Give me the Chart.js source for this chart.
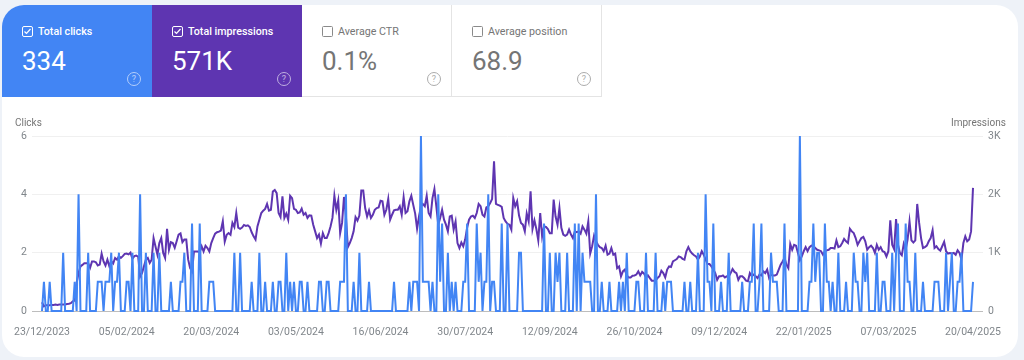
<!DOCTYPE html>
<html>
<head>
<meta charset="utf-8">
<title>Search performance</title>
<script src="https://cdn.jsdelivr.net/npm/chart.js@4"></script>
<style>
    html, body { margin: 0; padding: 0; width: 1024px; height: 360px; overflow: hidden; background: #eef2f8; font-family: Roboto, sans-serif; }
    .card { position: absolute; left: 2px; top: 5px; width: 1016px; height: 352px; background: #fff; border-radius: 22px; overflow: hidden; }
    .tile { position: absolute; top: 0; height: 92px; box-sizing: border-box; color: #757575; border-right: 1px solid #e4e4e4; border-bottom: 1px solid #e4e4e4; }
    .tile.on { color: #fff; border: none; }
    .tile .name { position: absolute; top: 20px; font-size: 10.7px; line-height: 13px; font-weight: 400; white-space: nowrap; }
    .tile.on .name { font-weight: 500; }
    .tile .value { position: absolute; top: 41px; left: 20px; font-size: 26px; line-height: 30px; white-space: nowrap; }
    .tile svg { position: absolute; left: 20px; top: 21px; }
    .help { position: absolute; top: 67px; width: 12px; height: 12px; border: 1px solid currentColor; border-radius: 50%; font-size: 9px; line-height: 12px; text-align: center; opacity: 0.6; }
    .axis-title { position: absolute; top: 117px; font-size: 10px; color: #757575; line-height: 12px; }
    #chart { position: absolute; left: 0; top: 110px; }
</style>
</head>
<body>
<div class="card">
    <div class="tile on" style="left:0;width:150px;background:#4285f4">
        <svg width="11" height="11" viewBox="0 0 11 11"><rect x="0.5" y="0.5" width="10" height="10" rx="1.5" fill="none" stroke="#fff"/><path d="M2.5 5.5l2 2 4-4.5" fill="none" stroke="#fff" stroke-width="1.2"/></svg>
        <span class="name" style="left:36px">Total clicks</span>
        <span class="value">334</span>
        <span class="help" style="left:125px">?</span>
    </div>
    <div class="tile on" style="left:150px;width:150px;background:#5e35b1">
        <svg width="11" height="11" viewBox="0 0 11 11"><rect x="0.5" y="0.5" width="10" height="10" rx="1.5" fill="none" stroke="#fff"/><path d="M2.5 5.5l2 2 4-4.5" fill="none" stroke="#fff" stroke-width="1.2"/></svg>
        <span class="name" style="left:36px">Total impressions</span>
        <span class="value">571K</span>
        <span class="help" style="left:125px">?</span>
    </div>
    <div class="tile" style="left:300px;width:150px">
        <svg width="11" height="11" viewBox="0 0 11 11"><rect x="0.5" y="0.5" width="10" height="10" rx="1" fill="none" stroke="#8a8a8a"/></svg>
        <span class="name" style="left:36px">Average CTR</span>
        <span class="value">0.1%</span>
        <span class="help" style="left:125px">?</span>
    </div>
    <div class="tile" style="left:450px;width:150px">
        <svg width="11" height="11" viewBox="0 0 11 11"><rect x="0.5" y="0.5" width="10" height="10" rx="1" fill="none" stroke="#8a8a8a"/></svg>
        <span class="name" style="left:36px">Average position</span>
        <span class="value">68.9</span>
        <span class="help" style="left:125px">?</span>
    </div>
</div>
<canvas id="chart" width="1024" height="240"></canvas>
<span class="axis-title" style="left:15px">Clicks</span>
<span class="axis-title" style="left:951px">Impressions</span>

<script>
// ---- Data, one value per day ----
const tickLabels = ['23/12/2023', '05/02/2024', '20/03/2024', '03/05/2024', '16/06/2024', '30/07/2024',
    '12/09/2024', '26/10/2024', '09/12/2024', '22/01/2025', '07/03/2025', '20/04/2025'];
const leftTicks = ['0', '2', '4', '6'];
const rightTicks = ['0', '1K', '2K', '3K'];

const clicks = [
    0,1,0,0,1,0,0,0,0,0, 0,2,0,0,0,0,0,1,0,4, 0,0,0,0,2,0,0,0,0,1, 1,1,0,1,1,1,2,0,1,1,
    2,0,0,0,1,1,0,2,0,0, 0,4,0,0,2,0,0,0,2,0, 0,2,0,0,0,0,0,1,0,0, 0,0,1,1,2,0,0,0,3,0,
    0,0,3,0,0,0,0,1,1,1, 0,0,0,0,0,0,0,0,0,0, 2,0,0,2,0,0,0,0,0,1, 0,0,0,2,0,0,1,0,0,0,
    1,0,0,1,1,0,0,2,0,1, 0,1,0,0,1,1,0,0,1,0, 0,0,0,0,1,1,0,0,1,1, 0,0,0,0,0,1,1,1,4,0,
    0,0,1,0,0,2,0,0,0,0, 1,0,0,0,0,0,0,0,0,0, 0,0,0,1,0,0,0,0,0,0, 0,1,0,1,1,1,0,6,1,1,
    1,1,0,1,0,0,4,1,3,0, 0,2,0,1,0,1,0,0,0,1, 1,3,0,0,0,0,3,1,2,0, 1,1,4,0,1,1,0,0,0,3,
    0,0,3,0,0,0,0,0,2,2, 0,0,0,0,0,0,0,0,0,0, 0,3,0,0,2,0,0,2,1,2, 0,0,0,2,0,0,0,3,0,3,
    0,2,1,1,1,1,0,0,4,0, 0,1,0,0,0,1,0,0,0,0, 1,0,1,0,2,0,0,0,0,1, 1,0,0,0,2,0,0,0,0,2,
    0,0,0,1,0,1,1,1,0,0, 0,0,0,0,1,0,0,1,0,0, 0,2,0,0,0,4,1,1,0,3, 0,0,0,1,0,0,0,2,0,0,
    0,0,0,0,1,0,0,0,1,1, 3,0,0,1,3,0,0,0,0,2, 1,1,1,0,0,0,3,0,0,0, 0,0,0,0,6,0,0,0,0,1,
    1,3,1,2,2,0,0,3,1,1, 0,1,0,0,2,0,0,0,1,0, 0,0,2,1,1,0,0,2,1,2, 0,0,0,0,2,0,0,1,1,0,
    0,0,2,0,2,3,0,0,0,3, 1,1,0,0,2,0,0,0,1,0, 0,0,0,0,1,1,1,0,0,0, 2,0,1,2,0,0,1,1,2,0,
    0,0,0,0,1
];

const impressions = [
    150,80,100,100,100,105,105,110,105,110,
    110,110,110,120,125,135,165,180,480,650,
    765,790,820,820,820,740,850,850,835,780,
    795,985,850,780,880,770,855,815,910,880,
    940,910,940,980,985,970,1000,895,940,950,
    930,590,650,765,880,910,825,880,1250,1105,
    965,1165,1250,995,910,1410,1050,1180,1165,1085,
    1195,1310,1330,1180,1225,1225,880,735,680,1020,
    1020,1020,1005,1110,1020,1120,1080,1020,1165,1250,
    1325,1350,1360,1380,1540,1190,1305,1335,1305,1510,
    1440,1680,1430,1410,1430,1475,1460,1470,1440,1350,
    1280,1225,1450,1565,1680,1720,1750,1835,1720,1735,
    2050,2075,2020,1680,1610,1965,1595,1670,1565,1975,
    1935,1750,1735,1680,1690,1755,1650,1680,1595,1640,
    1635,1480,1365,1250,1310,1155,1335,1250,1250,1335,
    1450,1595,1975,1735,1895,1335,1510,1955,1620,1095,
    1165,1250,1365,1610,1550,1635,2065,2065,1765,1620,
    1725,1595,1650,1735,1765,1775,1890,1880,1650,1735,
    1920,1565,1650,1725,1735,1735,1795,1650,1950,1680,
    1710,1880,1975,1820,1670,1410,1620,1795,1835,1795,
    1975,1680,1620,1935,2090,1795,1480,1595,1735,1565,
    1480,1365,1620,1635,1395,1535,1165,1080,1175,1110,
    1225,1425,1565,1620,1635,1595,1680,1835,1795,1650,
    1620,1775,1795,1850,1920,2565,1835,1820,1805,1785,
    1595,1535,1495,1480,1395,1935,1795,1880,1635,1510,
    1480,1365,1670,1535,2050,1405,1555,1405,1210,1680,
    1280,1450,1440,1405,1335,1335,1910,1620,1480,1765,
    1425,1310,1290,1310,1395,1310,1250,1365,1350,1365,
    1325,1450,1395,1325,1535,985,1110,1290,1195,1135,
    1095,1080,1025,1120,965,985,1080,965,985,735,
    765,595,680,710,610,575,575,605,610,625,
    680,610,670,640,575,610,565,520,520,525,
    565,595,690,650,575,710,765,755,850,870,
    890,935,925,895,880,1025,1095,1025,985,955,
    935,880,935,1025,965,880,805,805,765,710,
    650,535,595,595,610,575,595,585,650,720,
    670,650,535,595,595,565,520,510,650,595,
    625,595,565,625,610,680,650,710,565,625,
    610,610,625,710,795,850,910,795,735,1150,
    1050,1135,1120,995,870,935,1025,1095,1025,1095,
    1120,1110,1080,1050,1040,1025,965,1025,1040,1050,
    1080,1080,1070,1210,1095,1110,1165,1235,1195,1165,
    1410,1365,1335,1250,1135,1195,1250,1270,1195,1050,
    1095,1120,1080,995,1135,1050,1095,1025,1010,935,
    1025,1555,1135,1060,1575,1135,995,955,1150,1050,
    1225,1535,1210,1175,1210,1835,1510,1250,1080,1095,
    1120,1195,1250,1385,1080,1110,1060,1035,1110,1185,
    1025,985,995,985,995,965,1040,995,880,1165,
    1280,1195,1225,1365,2110
];

const GREY = '#80868b';
const tickFont = { family: 'Roboto', size: 10.5 };

new Chart(document.getElementById('chart').getContext('2d'), {
    type: 'line',
    data: {
        datasets: [
            {
                label: 'Clicks',
                data: clicks.map((v, i) => ({ x: i, y: v })),
                yAxisID: 'y',
                borderColor: '#4285f4',
                borderWidth: 2,
                pointRadius: 0,
                tension: 0,
                clip: false
            },
            {
                label: 'Impressions',
                data: impressions.map((v, i) => ({ x: i, y: v })),
                yAxisID: 'y1',
                borderColor: '#5e35b1',
                borderWidth: 2,
                pointRadius: 0,
                tension: 0,
                clip: false
            }
        ]
    },
    options: {
        responsive: false,
        animation: false,
        layout: { padding: { top: 26, left: 0, right: 0, bottom: 0 } },
        plugins: { legend: { display: false }, tooltip: { enabled: false } },
        scales: {
            x: {
                type: 'linear',
                min: -5.2,
                max: 489.2,
                grid: { display: false },
                border: { display: false },
                afterBuildTicks: axis => { axis.ticks = tickLabels.map((_, i) => ({ value: i * 44 })); },
                afterFit: axis => { axis.height = 39; },
                ticks: {
                    autoSkip: false,
                    maxRotation: 0,
                    padding: 7,
                    color: GREY,
                    font: tickFont,
                    callback: value => tickLabels[value / 44]
                }
            },
            y: {
                position: 'left',
                min: 0,
                max: 6,
                afterFit: axis => { axis.width = 32; },
                grid: {
                    drawTicks: false,
                    color: ctx => ctx.tick.value === 0 ? '#bdbdbd' : '#f0f0f0'
                },
                border: { display: false },
                ticks: {
                    stepSize: 2,
                    padding: 5,
                    color: GREY,
                    font: tickFont,
                    callback: value => leftTicks[value / 2]
                }
            },
            y1: {
                position: 'right',
                min: 0,
                max: 3000,
                afterFit: axis => { axis.width = 41; },
                grid: { display: false, drawTicks: false },
                border: { display: false },
                ticks: {
                    stepSize: 1000,
                    padding: 5,
                    color: GREY,
                    font: tickFont,
                    callback: value => rightTicks[value / 1000]
                }
            }
        }
    }
});
</script>
</body>
</html>
